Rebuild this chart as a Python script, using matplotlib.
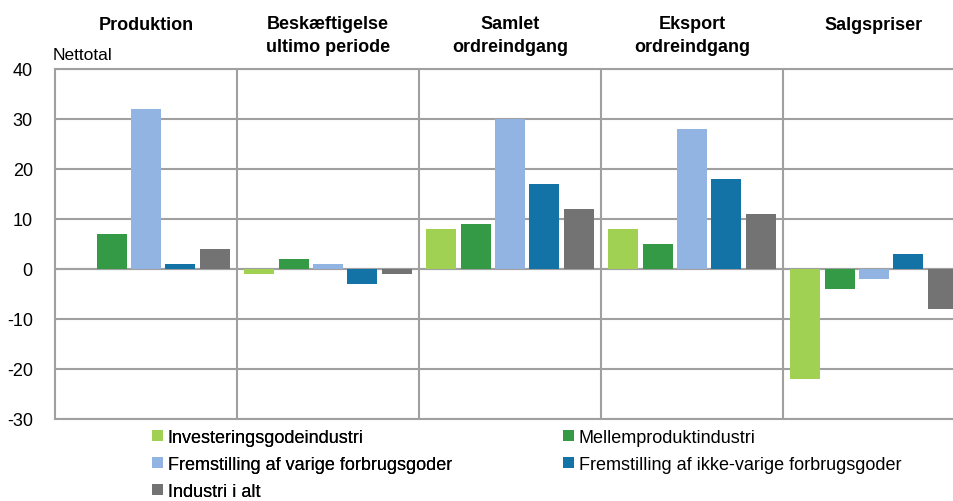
import matplotlib
matplotlib.use("Agg")
import matplotlib.pyplot as plt
from matplotlib import font_manager
from matplotlib.patches import Patch
import numpy as np

groups = ["Produktion", "Beskæftigelse\nultimo periode", "Samlet\nordreindgang",
          "Eksport\nordreindgang", "Salgspriser"]
series = ["Investeringsgodeindustri", "Mellemproduktindustri",
          "Fremstilling af varige forbrugsgoder",
          "Fremstilling af ikke-varige forbrugsgoder", "Industri i alt"]
investering = [0, -1, 8, 8, -22]
mellem = [7, 2, 9, 5, -4]
varige = [32, 1, 30, 28, -2]
ikke_varige = [1, -3, 17, 18, 3]
industri = [4, -1, 12, 11, -8]
yticks = [-30, -20, -10, 0, 10, 20, 30, 40]
colors = ["#A1D153", "#349A46", "#92B4E2", "#1473A6", "#737373"]

names = {f.name for f in font_manager.fontManager.ttflist}
base = "Liberation Sans" if "Liberation Sans" in names else "DejaVu Sans"
narrow = "Liberation Sans Narrow" if "Liberation Sans Narrow" in names else base
plt.rcParams['font.family'] = [base, 'DejaVu Sans']

W, H = 954, 502
fig = plt.figure(figsize=(W / 100, H / 100), dpi=100)
left_px, right_px, top_px, bot_px = 55, 965, 70, 420
ax = fig.add_axes([left_px / W, 1 - bot_px / H, (right_px - left_px) / W, (bot_px - top_px) / H])

data = [investering, mellem, varige, ikke_varige, industri]
x = np.arange(len(groups))
step = 34.4 / 182
width = 30 / 182
for k, (vals, c, name) in enumerate(zip(data, colors, series)):
    ax.bar(x + (k - 2) * step, vals, width=width, color=c, linewidth=0,
           zorder=3, label=name)

ax.set_xlim(-0.5, len(groups) - 0.5)
ax.set_ylim(-30, 40)
ax.set_yticks(yticks)
ax.set_yticklabels([str(v) for v in yticks], fontsize=13)
ax.set_xticks([])
ax.tick_params(axis="y", length=0, pad=16)
gc = "#A0A0A0"
ax.yaxis.grid(True, color=gc, linewidth=1.5, zorder=1)
for i in range(1, len(groups)):
    ax.axvline(i - 0.5, color=gc, linewidth=1.5, zorder=1)
ax.axhline(0, color=gc, linewidth=1.5, zorder=2)
for s in ["left", "top", "bottom"]:
    ax.spines[s].set_color(gc)
    ax.spines[s].set_linewidth(1.5)
ax.spines["right"].set_visible(False)

for i, g in enumerate(groups):
    fx = (left_px + (i + 0.5) * 182) / W
    top = 17 if "\n" not in g else 16
    fig.text(fx, 1 - top / H, g, ha="center", va="top", fontsize=13, fontweight="bold",
             linespacing=1.45)

fig.text(53 / W, 1 - 55 / H, "Nettotal", ha="left", va="center", fontsize=12.5)

h = [Patch(facecolor=c) for c in colors]
common = dict(loc="upper left", frameon=False, prop={"family": narrow, "size": 13},
              handlelength=0.61, handleheight=0.61, handletextpad=0.25,
              labelspacing=0.55, borderaxespad=0, borderpad=0)
leg1 = fig.legend([h[0], h[2], h[4]], [series[0], series[2], series[4]],
                  bbox_to_anchor=(152 / W, 1 - 430 / H), **common)
fig.add_artist(leg1)
leg2 = fig.legend([h[1], h[3]], [series[1], series[3]],
                  bbox_to_anchor=(563 / W, 1 - 430 / H), **common)

fig.savefig("out.png", dpi=100)
